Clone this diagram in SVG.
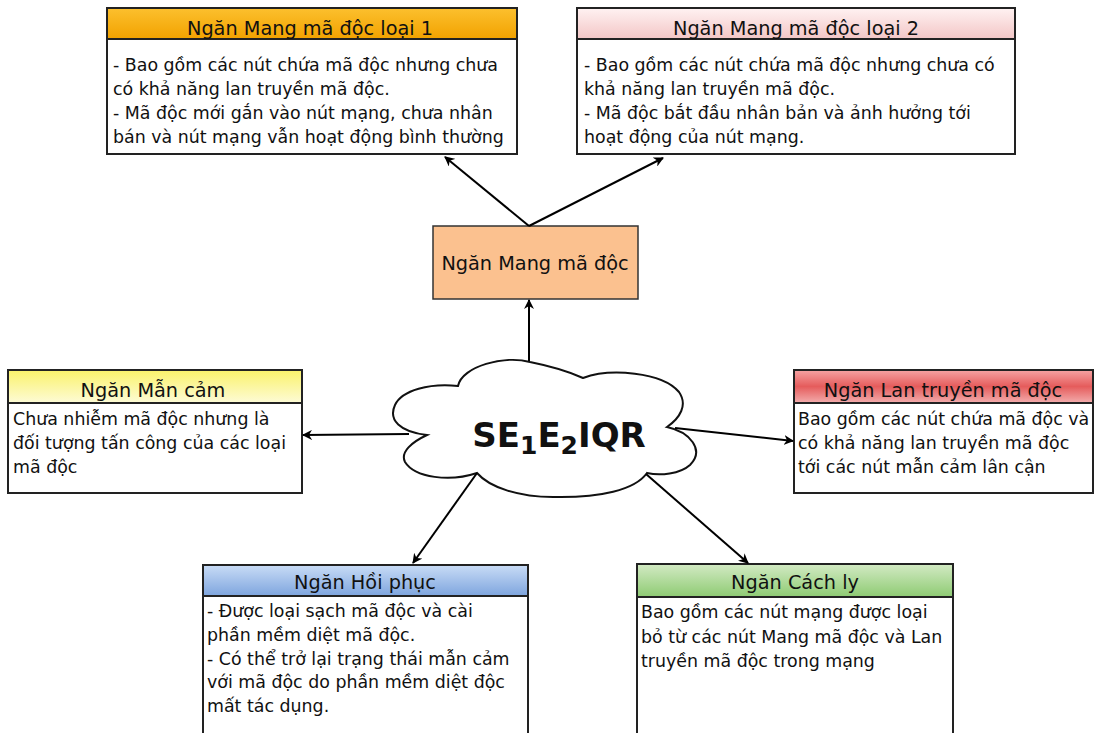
<svg xmlns="http://www.w3.org/2000/svg" width="1095" height="733" viewBox="0 0 1095 733">
<defs>
<linearGradient id="gOrange" x1="0" y1="0" x2="0" y2="1"><stop offset="0" stop-color="#fcc02e"/><stop offset="1" stop-color="#f2a200"/></linearGradient>
<linearGradient id="gPink" x1="0" y1="0" x2="0" y2="1"><stop offset="0" stop-color="#fff2f2"/><stop offset="1" stop-color="#f3c6c6"/></linearGradient>
<linearGradient id="gYellow" x1="0" y1="0" x2="0" y2="1"><stop offset="0" stop-color="#faf26a"/><stop offset="1" stop-color="#fdfbd6"/></linearGradient>
<linearGradient id="gRed" x1="0" y1="0" x2="0" y2="1"><stop offset="0" stop-color="#f6a3a3"/><stop offset="0.5" stop-color="#e55c5c"/><stop offset="1" stop-color="#f3adad"/></linearGradient>
<linearGradient id="gBlue" x1="0" y1="0" x2="0" y2="1"><stop offset="0" stop-color="#c9dcf6"/><stop offset="1" stop-color="#7ea5de"/></linearGradient>
<linearGradient id="gGreen" x1="0" y1="0" x2="0" y2="1"><stop offset="0" stop-color="#d3eac4"/><stop offset="1" stop-color="#8ecb73"/></linearGradient>
<marker id="arr" viewBox="0 0 10 10" refX="9" refY="5" markerWidth="10" markerHeight="10" orient="auto" markerUnits="userSpaceOnUse">
<path d="M0,0 L10,5 L0,10 L3,5 Z" fill="#000"/>
</marker>
</defs>
<style>
.box{fill:#fff;stroke:#222;stroke-width:2}
.hdr{stroke:#222;stroke-width:2}
.ht{font-family:"DejaVu Sans","Liberation Sans",sans-serif;font-size:19.3px;fill:#111;text-anchor:middle}
.bt{font-family:"DejaVu Sans","Liberation Sans",sans-serif;font-size:17.4px;fill:#111}
.conn{stroke:#000;stroke-width:2;fill:none;marker-end:url(#arr)}
</style>
<rect width="1095" height="733" fill="#fff"/>

<g id="loai1">
<rect class="box" x="107" y="8" width="410" height="146"/>
<rect class="hdr" x="107" y="8" width="410" height="31" fill="url(#gOrange)"/>
<text class="ht" x="310" y="35">Ngăn Mang mã độc loại 1</text>
<text class="bt" x="113" y="71">- Bao gồm các nút chứa mã độc nhưng chưa</text>
<text class="bt" x="113" y="95">có khả năng lan truyền mã độc.</text>
<text class="bt" x="113" y="119">- Mã độc mới gắn vào nút mạng, chưa nhân</text>
<text class="bt" x="113" y="143">bán và nút mạng vẫn hoạt động bình thường</text>
</g>

<g id="loai2">
<rect class="box" x="577" y="8" width="438" height="146"/>
<rect class="hdr" x="577" y="8" width="438" height="31" fill="url(#gPink)"/>
<text class="ht" x="796" y="35">Ngăn Mang mã độc loại 2</text>
<text class="bt" x="584" y="71">- Bao gồm các nút chứa mã độc nhưng chưa có</text>
<text class="bt" x="584" y="95">khả năng lan truyền mã độc.</text>
<text class="bt" x="584" y="119">- Mã độc bắt đầu nhân bản và ảnh hưởng tới</text>
<text class="bt" x="584" y="143">hoạt động của nút mạng.</text>
</g>

<g id="mangmadoc">
<rect x="433" y="226" width="205" height="73" fill="#fbc18f" stroke="#333" stroke-width="1.5"/>
<text class="ht" x="535" y="270">Ngăn Mang mã độc</text>
</g>

<g id="mancam">
<rect class="box" x="8" y="370" width="294" height="123"/>
<rect class="hdr" x="8" y="370" width="294" height="33" fill="url(#gYellow)"/>
<text class="ht" x="153" y="397">Ngăn Mẫn cảm</text>
<text class="bt" x="13" y="425">Chưa nhiễm mã độc nhưng là</text>
<text class="bt" x="13" y="449">đối tượng tấn công của các loại</text>
<text class="bt" x="13" y="473">mã độc</text>
</g>

<g id="lantruyen">
<rect class="box" x="794" y="370" width="299" height="123"/>
<rect class="hdr" x="794" y="370" width="299" height="33" fill="url(#gRed)"/>
<text class="ht" x="943" y="397">Ngăn Lan truyền mã độc</text>
<text class="bt" x="798" y="425">Bao gồm các nút chứa mã độc và</text>
<text class="bt" x="798" y="449">có khả năng lan truyền mã độc</text>
<text class="bt" x="798" y="473">tới các nút mẫn cảm lân cận</text>
</g>

<g id="hoiphuc">
<rect class="box" x="203" y="565" width="325" height="175"/>
<rect class="hdr" x="203" y="565" width="325" height="31" fill="url(#gBlue)"/>
<text class="ht" x="365" y="589">Ngăn Hồi phục</text>
<text class="bt" x="207" y="617">- Được loại sạch mã độc và cài</text>
<text class="bt" x="207" y="641">phần mềm diệt mã độc.</text>
<text class="bt" x="207" y="665">- Có thể trở lại trạng thái mẫn cảm</text>
<text class="bt" x="207" y="688">với mã độc do phần mềm diệt độc</text>
<text class="bt" x="207" y="712">mất tác dụng.</text>
</g>

<g id="cachly">
<rect class="box" x="637" y="564" width="316" height="176"/>
<rect class="hdr" x="637" y="564" width="316" height="33" fill="url(#gGreen)"/>
<text class="ht" x="795" y="589">Ngăn Cách ly</text>
<text class="bt" x="641" y="618">Bao gồm các nút mạng được loại</text>
<text class="bt" x="641" y="643">bỏ từ các nút Mang mã độc và Lan</text>
<text class="bt" x="641" y="667">truyền mã độc trong mạng</text>
</g>

<g id="cloud">
<path d="M458,386 C462,366 505,355 530,362 C550,366 570,372 583,378 C610,368 662,372 679,392 C688,405 680,418 667,427 C690,432 705,450 690,465 C680,474 660,476 647,473 C635,490 600,498 553,497 C520,497 490,488 477,473 C450,482 415,478 405,462 C400,452 412,442 427,435 C400,432 388,420 395,405 C402,390 430,383 458,386 Z" fill="#fff" stroke="#111" stroke-width="2"/>
<text x="559" y="447" text-anchor="middle" style="font-family:'DejaVu Sans',sans-serif;font-weight:bold;font-size:34px;fill:#111">SE<tspan font-size="25" dy="7">1</tspan><tspan dy="-7">E</tspan><tspan font-size="25" dy="7">2</tspan><tspan dy="-7">IQR</tspan></text>
</g>

<g id="connectors">
<line class="conn" x1="529" y1="226" x2="445" y2="157"/>
<line class="conn" x1="529" y1="226" x2="663" y2="158"/>
<line class="conn" x1="529" y1="361" x2="529" y2="300"/>
<line class="conn" x1="409" y1="434" x2="303" y2="435"/>
<line class="conn" x1="675" y1="428" x2="793" y2="441"/>
<line class="conn" x1="477" y1="473" x2="413" y2="563"/>
<line class="conn" x1="646" y1="474" x2="748" y2="563"/>
</g>
</svg>
